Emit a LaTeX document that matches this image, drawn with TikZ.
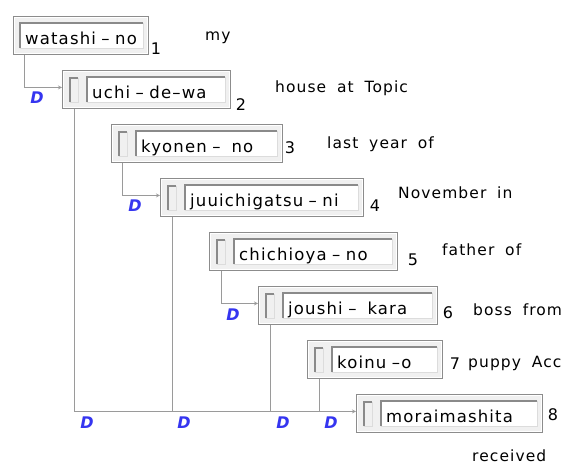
\documentclass[tikz,border=0pt]{standalone}
\usepackage{fontspec}
\setmainfont{DejaVu Sans}[LetterSpace=7,WordSpace=1.2]
\newfontfamily\glossfont{DejaVu Sans}[LetterSpace=7,WordSpace=1.8]
\newfontfamily\dfont{DejaVu Sans}
\definecolor{boxgray}{HTML}{8C8C8C}
\definecolor{boxfill}{HTML}{F0F0F0}
\definecolor{fielddark}{HTML}{8A8A8A}
\definecolor{fieldlight}{HTML}{DCDCDC}
\definecolor{linkgray}{HTML}{9A9A9A}
\definecolor{dblue}{HTML}{3535F0}
\tikzset{
  outerbox/.style={draw=boxgray, fill=boxfill, line width=0.9pt, anchor=north west,
    minimum height=38pt, inner sep=0pt},
  bracketbox/.style={draw=fieldlight, fill=boxfill, anchor=north west,
    minimum width=8pt, minimum height=24pt, inner sep=0pt},
  fieldbox/.style={draw=fieldlight, fill=white, anchor=north west, minimum height=25pt,
    inner xsep=5pt, inner ysep=0pt, align=left, text height=18pt, text depth=0pt,
    font=\fontsize{16.5}{19}\selectfont},
  link/.style={draw=linkgray, line width=0.8pt},
  dlab/.style={font=\dfont\fontsize{16}{18}\bfseries\itshape, text=dblue},
  numlab/.style={font=\fontsize{16}{18}\selectfont},
  gloss/.style={font=\glossfont\fontsize{15.5}{17}\selectfont, anchor=base west, inner sep=0pt},
}
% frame of a word box: name, north west corner, width
\newcommand{\wframe}[3]{%
  \node[outerbox, minimum width=#3pt] (#1) at (#2) {};
  \draw[white, line width=1pt] ([shift={(1.5pt,-1.5pt)}]#1.north west)
    rectangle ([shift={(-1.5pt,1.5pt)}]#1.south east);
}
% text field: name, left offset, width, word
\newcommand{\wfield}[4]{%
  \pgfmathsetlengthmacro\fieldw{#3pt-#2pt-15pt}
  \node[fieldbox, text width=\fieldw] (#1f) at ([shift={(#2pt,-7pt)}]#1.north west) {\mbox{#4}};
  \draw[fielddark, line width=1.3pt] (#1f.south west) -- (#1f.north west) -- (#1f.north east);
}
\newcommand{\plainbox}[4]{\wframe{#1}{#2}{#3}\wfield{#1}{7}{#3}{#4}}
\newcommand{\wordbox}[4]{%
  \wframe{#1}{#2}{#3}
  \node[bracketbox] (#1k) at ([shift={(8pt,-8pt)}]#1.north west) {};
  \draw[fielddark, line width=1.5pt] (#1k.south west) -- (#1k.north west) -- (#1k.north east);
  \wfield{#1}{25}{#3}{#4}
}
\begin{document}
\begin{tikzpicture}[x=1pt,y=-1pt]
  \useasboundingbox (0,0) rectangle (565,464);
  % word boxes
  \plainbox{b1}{13,16}{135}{watashi – no}
  \wordbox{b2}{62,70}{168}{uchi – de–wa}
  \wordbox{b3}{111,124}{171}{kyonen – \ no}
  \wordbox{b4}{160,178}{203}{juuichigatsu – ni}
  \wordbox{b5}{209,232}{188}{chichioya – no}
  \wordbox{b6}{258,286}{179}{joushi – \ kara}
  \wordbox{b7}{307,340}{135}{koinu –o}
  \wordbox{b8}{356,394}{186}{moraimashita}
  % numbers
  \node[numlab] (n1) at (156,49) {1};
  \node[numlab] (n2) at (241,105) {2};
  \node[numlab] (n3) at (290,148) {3};
  \node[numlab] (n4) at (375,206) {4};
  \node[numlab] (n5) at (413,260) {5};
  \node[numlab] (n6) at (448,313) {6};
  \node[numlab] (n7) at (455,364) {7};
  \node[numlab] (n8) at (553,415) {8};
  % glosses
  \node[gloss] (g1) at (205,40) {my};
  \node[gloss] (g2) at (275,92) {house at Topic};
  \node[gloss] (g3) at (327,148) {last year of};
  \node[gloss] (g4) at (398,198) {November in};
  \node[gloss] (g5) at (442,255) {father of};
  \node[gloss] (g6) at (473,315) {boss from};
  \node[gloss] (g7) at (468,367) {puppy Acc};
  \node[gloss] (g8) at (472,461) {received};
  % dependencies
  \draw[link,->,>=stealth] ([xshift=11pt]b1.south west) |- ([yshift=2pt]b2.west);
  \draw[link,->,>=stealth] ([xshift=11pt]b3.south west) |- ([yshift=2pt]b4.west);
  \draw[link,->,>=stealth] ([xshift=12pt]b5.south west) |- ([yshift=2pt]b6.west);
  \coordinate (bus) at ([yshift=2pt]b8.west);
  \draw[link,->,>=stealth] ([xshift=12pt]b2.south west) |- (bus);
  \draw[link] ([xshift=12pt]b4.south west) coordinate (c4) -- (c4 |- bus);
  \draw[link] ([xshift=12pt]b6.south west) coordinate (c6) -- (c6 |- bus);
  \draw[link] ([xshift=12pt]b7.south west) coordinate (c7) -- (c7 |- bus);
  \node[dlab] (d1) at (37,98) {D};
  \node[dlab] (d2) at (135,206) {D};
  \node[dlab] (d3) at (233,315) {D};
  \node[dlab] (d4) at (87,423) {D};
  \node[dlab] (d5) at (184,423) {D};
  \node[dlab] (d6) at (283,423) {D};
  \node[dlab] (d7) at (331,423) {D};
\end{tikzpicture}
\end{document}
